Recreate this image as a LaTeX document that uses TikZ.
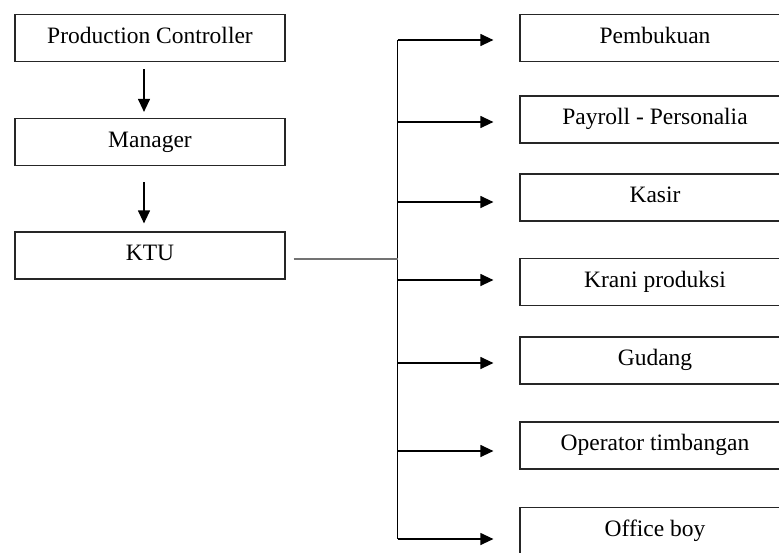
\documentclass[tikz,border=0pt]{standalone}
\usepackage{fontspec}
\setmainfont{Liberation Serif}
\usetikzlibrary{arrows.meta}

\begin{document}
\begin{tikzpicture}[x=1pt, y=-1pt,
    box/.style={draw=black!85, line width=1.2pt, minimum width=270pt, minimum height=47pt,
      inner sep=0pt, text height=16pt, text depth=6pt, font=\fontsize{23.5}{23.5}\selectfont},
    link/.style={line width=1.2pt, -{Triangle[length=13pt,width=12pt]}}]
  \useasboundingbox (0,0) rectangle (779,552);
  \clip (0,0) rectangle (779,552);
  \node[box] (PC) at (150,38) {Production Controller};
  \node[box] (Man) at (150,142) {Manager};
  \node[box] (KTU) at (150,255.5) {KTU};
  \draw[link] ([xshift=-6pt,yshift=-7pt]PC.south) -- ([xshift=-6pt,yshift=6pt]Man.north);
  \draw[link] ([xshift=-6pt,yshift=-16pt]Man.south) -- ([xshift=-6pt,yshift=8pt]KTU.north);
  \foreach \n/\y/\t in {Pem/38/Pembukuan, Pay/119.5/Payroll - Personalia, Kas/197.5/Kasir,
      Kra/282/Krani produksi, Gud/360.5/Gudang, Op/445.5/Operator timbangan, Ob/531/Office boy}
    \node[box] (\n) at (655,\y) {\t};
  \coordinate (top) at (397.5,40);
  \coordinate (bot) at (397.5,539);
  \coordinate (hub) at (397.5,259);
  \draw[line width=1.2pt] (top) -- (bot);
  \draw[black!55, line width=1.6pt] ([xshift=8pt,yshift=-3.5pt]KTU.east) -- (hub);
  \foreach \n/\y in {Pem/40, Pay/122, Kas/202, Kra/280, Gud/363, Op/451, Ob/539}
    \draw[link, shorten >=26pt] (top |- 0,\y) -- (\n.west |- 0,\y);
\end{tikzpicture}
\end{document}
